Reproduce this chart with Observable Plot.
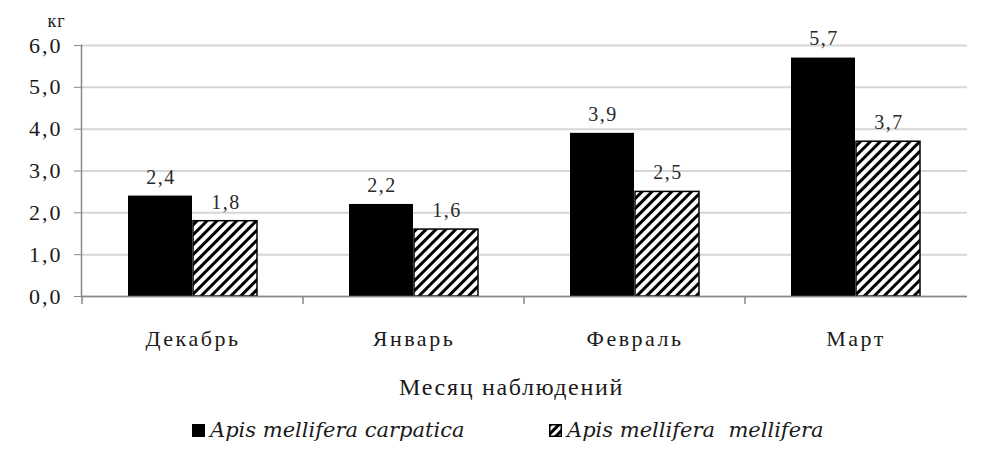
<!DOCTYPE html>
<html><head><meta charset="utf-8">
<script src="https://cdn.jsdelivr.net/npm/d3@7"></script>
<script src="https://cdn.jsdelivr.net/npm/@observablehq/plot@0.6"></script>
<style>
body{margin:0;background:#fff;}
#chart svg{display:block;}
#chart svg, #chart svg text{font-family:"Liberation Serif","Times New Roman",serif !important;}
#chart svg text{letter-spacing:2px;}
#chart svg g[aria-label="x-axis tick label"] text{letter-spacing:2.5px;}
#legend{position:relative;width:1000px;height:57px;font-family:"DejaVu Serif","Liberation Serif",serif;font-style:italic;font-size:21px;color:#1a1a1a;}
.item{position:absolute;top:13px;display:flex;align-items:center;gap:5px;line-height:24px;}
</style></head><body>
<div id="chart"></div>
<div id="legend"></div>
<script>
const months = ["Декабрь", "Январь", "Февраль", "Март"];
const seriesNames = ["Apis mellifera carpatica", "Apis mellifera  mellifera"];
const carpatica = [2.4, 2.2, 3.9, 5.7];
const mellifera = [1.8, 1.6, 2.5, 3.7];
const yTicks = [0, 1, 2, 3, 4, 5, 6];
const yLabel = "кг";
const xLabel = "Месяц наблюдений";

const dataA = months.map((m, i) => ({month: m, value: carpatica[i]}));
const dataB = months.map((m, i) => ({month: m, value: mellifera[i]}));
const fmt = v => v.toFixed(1).replace(".", ",");
const serif = "Liberation Serif";

const chart = Plot.plot({
  width: 1000,
  height: 405,
  marginLeft: 81,
  marginRight: 33,
  marginTop: 45,
  marginBottom: 109,
  style: {fontFamily: serif, color: "#1a1a1a", background: "#fff", overflow: "visible"},
  x: {domain: months, padding: 0, label: null},
  y: {domain: [0, 6], label: null},
  marks: [
    Plot.gridY(yTicks, {stroke: "#d6d6d6", strokeOpacity: 1, strokeWidth: 2}),
    Plot.barY(dataA, {x: "month", y: "value", fill: "#000", insetLeft: 46, insetRight: 111}),
    Plot.barY(dataB, {x: "month", y: "value", fill: "url(#hatch)", stroke: "#000", strokeWidth: 1.5, insetLeft: 111, insetRight: 46}),
    Plot.text(dataA, {x: "month", y: "value", text: d => fmt(d.value), dx: -32, dy: -19, lineAnchor: "middle", fontSize: 20, fill: "#2a2a2a"}),
    Plot.text(dataB, {x: "month", y: "value", text: d => fmt(d.value), dx: 33, dy: -19, lineAnchor: "middle", fontSize: 20, fill: "#2a2a2a"}),
    Plot.ruleY([0], {stroke: "#888", strokeWidth: 1.5}),
    Plot.frame({anchor: "left", stroke: "#888", strokeWidth: 1.5}),
    Plot.axisY(yTicks, {tickSize: 7, tickPadding: 12, tickFormat: fmt, fontSize: 22, stroke: "#888", label: null}),
    Plot.axisX({tickSize: 0, tickPadding: 34, fontSize: 22, label: null}),
    Plot.text([yLabel], {frameAnchor: "top-left", dx: -34, dy: -31, fontSize: 18, fill: "#1a1a1a"}),
    Plot.text([xLabel], {frameAnchor: "bottom", lineAnchor: "middle", dx: -13, dy: 91, fontSize: 24, fill: "#1a1a1a"})
  ]
});

const svg = d3.select(chart);

// per-label letter spacing (reference text is horizontally wide)
const textGroups = svg.selectAll('g[aria-label="text"]').nodes();
d3.selectAll(textGroups.slice(0, 2)).selectAll("text").style("letter-spacing", "1.5px");
d3.select(textGroups[2]).selectAll("text").style("letter-spacing", "1px");
d3.select(textGroups[3]).selectAll("text").style("letter-spacing", "1.7px");

// hatch pattern
const defs = svg.insert("defs", ":first-child");
const pat = defs.append("pattern").attr("id", "hatch").attr("patternUnits", "userSpaceOnUse")
  .attr("width", 7).attr("height", 7).attr("patternTransform", "rotate(45)");
pat.append("rect").attr("width", 7).attr("height", 7).attr("fill", "#fff");
pat.append("line").attr("x1", 1.5).attr("y1", 0).attr("x2", 1.5).attr("y2", 7).attr("stroke", "#000").attr("stroke-width", 3);

// category-boundary ticks on the x axis
const xs = chart.scale("x");
const y0 = chart.scale("y").apply(0);
svg.append("g").selectAll("line").data(months).join("line")
  .attr("x1", d => xs.apply(d)).attr("x2", d => xs.apply(d))
  .attr("y1", y0).attr("y2", y0 + 8)
  .attr("stroke", "#888").attr("stroke-width", 1.5);

document.getElementById("chart").append(chart);

// legend
const legend = d3.select("#legend");
const lefts = [192, 549];
seriesNames.forEach((name, i) => {
  const item = legend.append("div").attr("class", "item").style("left", lefts[i] + "px");
  const sw = item.append("svg").attr("width", 13).attr("height", 13);
  if (i === 0) {
    sw.append("rect").attr("width", 13).attr("height", 13).attr("fill", "#000");
  } else {
    const d = sw.append("defs").append("pattern").attr("id", "hatch2").attr("patternUnits", "userSpaceOnUse")
      .attr("width", 6).attr("height", 6).attr("patternTransform", "rotate(45)");
    d.append("rect").attr("width", 6).attr("height", 6).attr("fill", "#fff");
    d.append("line").attr("x1", 1.5).attr("y1", 0).attr("x2", 1.5).attr("y2", 6).attr("stroke", "#000").attr("stroke-width", 3);
    sw.append("rect").attr("x", 0.75).attr("y", 0.75).attr("width", 11.5).attr("height", 11.5)
      .attr("fill", "url(#hatch2)").attr("stroke", "#000").attr("stroke-width", 1.5);
  }
  item.append("span").style("white-space", "pre").text(name);
});
</script>
</body></html>
